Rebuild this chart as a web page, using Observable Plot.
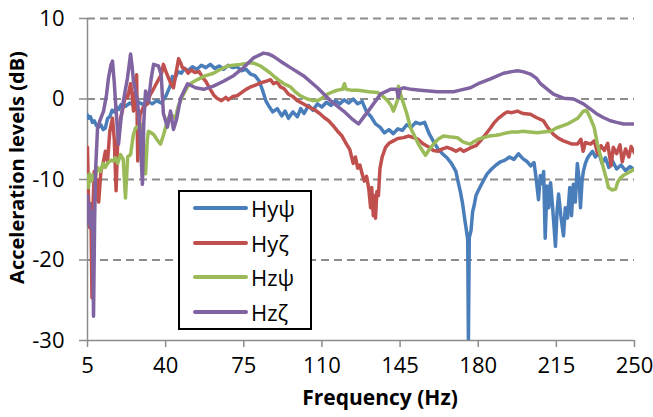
<!DOCTYPE html>
<html><head><meta charset="utf-8">
<script src="https://cdn.jsdelivr.net/npm/d3@7"></script>
<script src="https://cdn.jsdelivr.net/npm/@observablehq/plot@0.6"></script>
<style>
body{margin:0;background:#fff;}
#wrap{position:relative;width:653px;height:417px;font-family:"Open Sans",sans-serif;}
#legend{position:absolute;left:178px;top:190px;width:130px;height:136px;border:2px solid #000;background:#fff;}
.item{position:absolute;left:13px;height:30px;display:flex;align-items:center;font-size:22px;color:#000;}
.sw{width:55px;height:4px;border-radius:2px;margin-right:3px;}
</style></head>
<body><div id="wrap"><div id="chart"></div><div id="legend"></div></div>
<script>
const seriesNames = ["Hyψ", "Hyζ", "Hzψ", "Hzζ"];
const seriesColors = ["#4a7ebb", "#c0504d", "#9bbb59", "#8064a2"];
const xTicks = [5, 40, 75, 110, 145, 180, 215, 250];
const yTicks = [-30, -20, -10, 0, 10];

const hyPsiFreq = [5,5.5,6.3,7.2,8,9,10,11,12,13,14,15,16,17,18,19,20,22,24,26,28,30,32,34,36,38,40,42,43,44,45.5,47,48.5,50,52,54,56,58,60,62,64,66,68,70,72,74,76,78,80,82,83.5,85,86.5,88,90,92,93.5,95,97,99,100.5,102,104,106,108,110,112,114,116,118,120,122,124,126,128,130,132,134,136,138,140,142,144,146,148,150,152,154,156,158,160,162,164,166,168,170,171,172,173,174,174.8,175.3,175.6,176,176.8,177.5,178.2,179,180,182,184,186,188,190,192,194,196,198,200,202,203.5,205,206,207,207.8,208.5,209.3,210,210.8,211.6,212.4,213.2,214,214.6,215.3,216,217,218.2,219,220,221,221.8,222.6,223.5,224.4,225.2,225.8,226.5,227.1,228,229,230,231.2,232.5,234,235.5,237,238.5,240,242,244,246,248,250];
const hyPsiLevel = [-2,-2.4,-2.2,-2.9,-2.7,-3.3,-3.5,-3.2,-3.8,-3.6,-2.4,-2.2,-1.4,-1.6,-1,-1.3,-0.7,-0.9,-0.5,-0.8,-0.4,-0.7,-0.3,-0.6,-0.2,-0.5,0.3,1.6,2.8,2.4,3.4,3.2,3.8,3.5,4,3.7,4.2,3.9,4.3,3.8,4.1,3.7,4.2,3.9,4,3.5,3.7,3.1,2.9,2.2,1,-0.3,-1,-1.6,-1.2,-2.1,-1.5,-2.4,-1.6,-2.2,-1.2,-1.8,-0.8,-1.4,-0.6,-1,-0.4,-0.8,-0.2,-0.6,-0.1,-0.5,0,-0.6,-0.3,-1.6,-2.2,-3.1,-3.5,-4.2,-3.8,-4.3,-3.7,-3.9,-3.2,-3.5,-2.9,-3.1,-2.9,-4.3,-5.3,-6.2,-6.8,-7.3,-8,-9,-10.3,-11.5,-13,-15,-16.5,-17.5,-30,-17.2,-16.3,-14,-13.2,-12,-11.4,-10.3,-9.3,-8.7,-8.2,-7.8,-7.6,-7.2,-7.5,-6.8,-7.4,-7.8,-8.3,-7.9,-10,-12.5,-9.5,-10.5,-9,-17.3,-10.8,-13.5,-10.4,-13,-16,-18.3,-14,-11.8,-14.5,-17,-13.5,-14.8,-11,-14.5,-10.6,-12.8,-8,-10,-13.5,-10.2,-9,-8,-7.3,-6.9,-6.5,-7.2,-6.6,-8,-7.3,-8.5,-7.6,-8.7,-8.2,-8.9,-8.4,-8.8];

const hyZetaFreq = [5,5.4,6,6.5,7,7.4,8,8.6,9.3,10,11,12,13,14,15,16.2,17,17.8,18.5,19.8,21,22,23,24.3,25,25.6,26.5,27,27.5,28.5,30,31.9,33,34.1,36.4,38,39,40,41.3,42.5,43.5,44.5,45.8,46.7,47.5,49,50,51.5,53,55,57,58,60,61.5,63,65,67,68,70,72,74,76,78,80,82.5,85,87,88.3,90,91.4,93,95,97,99,101,103,105,107,109,111,113,115,117,119,121,122.5,124,125,126,127,128,129,130,131,131.8,132.3,133,133.5,134,134.6,135.3,136,137,138.5,140,142,144,146.5,149,151,153,155.5,158,160,162,164,166,168,170,172,173.4,175,177,179,181,183,185.5,187,189,191.3,193,195,197.6,200,203.4,206,209.2,211,213.7,216,218.2,220,222,224.5,226,227,228,230.3,232,233.5,235,236.5,238,239.5,240.5,242,243.5,244.5,246,247.5,248.5,250];
const hyZetaLevel = [-6,-12,-16,-13,-24.7,-14,-9,-12.5,-10,-12.8,-9,-8,-6.5,-7.7,-4,-2.4,-5,-11.4,-5.5,-2.4,-1,0.5,0.2,1.9,0.5,-1.5,1,3,-7.7,-2,-1,-0.6,0.5,1,2.2,3,4.3,3.5,2.6,1.8,1.4,3,5,4.5,3.9,3.7,3.2,3.6,3.3,3.4,2.5,2.2,1.2,0.5,0.1,-0.2,0.2,-0.1,0.3,0.4,0.8,1.2,1.5,1.7,2,2.2,2.4,1.9,2.1,1.5,1.3,0.6,0.3,-0.2,-0.5,-0.8,-1.1,-1.4,-1.8,-2.3,-2.7,-3.3,-4,-4.6,-5.6,-6.3,-8,-7.2,-8.6,-8.2,-9.3,-10.2,-9.6,-11.2,-13.5,-11,-14.5,-12,-14.8,-11.5,-12,-8.6,-7.2,-6,-5.5,-5.2,-4.9,-4.8,-4.6,-4.8,-5,-5.6,-6,-6.4,-6.5,-6.2,-6,-6.2,-6.5,-6.2,-6.5,-6.3,-6,-5.8,-5.2,-4.5,-3.6,-3,-2.4,-1.9,-1.6,-1.7,-1.5,-1.8,-1.9,-2.3,-2.7,-3.5,-4.4,-4.9,-5.2,-5.4,-5.6,-5.6,-5,-6.5,-5.4,-5.6,-5.2,-6.8,-5.8,-6.4,-5.5,-8.3,-6,-6.8,-5.7,-7.8,-6.2,-7.2,-5.9,-6.7];

const hzPsiFreq = [5,5.45,6,6.8,7.5,8.5,9.5,10.8,12,13,14,15.5,16.6,17.5,18.5,19.8,21,22,23,24.3,25.5,26.5,28,28.7,30,31,31.8,32.3,33.5,34.6,36,37.7,39,39.9,41,42.2,43.5,44.4,45.5,46.7,48,49.8,51,53.4,55.6,58,61.4,64,67.7,70.4,73.5,76,78,80,82.5,85,87,89,91.4,93,95.9,98,100.4,103.5,106,108,110,112.5,115,117,119.2,120.1,120.8,123,126,128.6,131,134.9,137,139.4,141,142,143,143.8,144.3,145,146.1,148,149.7,151.5,153.2,155,156.4,158,160,162,164.4,167,170.7,173,175,176.5,178,180,182.4,185,188,190,193,195,197.6,200,203,206.5,209,212.4,215,218,220,222,224.5,226,227.1,228.5,230.3,232,233.4,235,236.1,237.5,238.3,240,241.5,242.5,243.7,245.5,248.2,250];
const hzPsiLevel = [-9.5,-11,-9.3,-10.2,-9.5,-9.8,-8.5,-9,-8,-8.5,-8,-7.6,-7.7,-7.3,-8,-6.9,-7.5,-12.3,-7.2,-6.9,-4.5,-3.6,-3.4,-3.1,-5.5,-9.3,-5,-4,-4.2,-4.4,-5,-5.6,-4.5,-3.6,-2.5,-1.9,-2.2,-2.4,-1,-0.2,0.6,1.5,1.9,2.3,2.6,2.9,3.2,3.6,4.1,4.2,4.3,4.4,4.5,4.4,4.1,3.6,3.2,2.7,2.2,1.9,1.5,0.9,0.4,0,-0.2,-0.2,0.1,0.6,0.9,1.1,1.2,1.9,1.2,1.1,1.1,1,0.9,0.8,0.4,-0.2,-0.8,-1.5,-0.8,-0.2,1.6,0.8,-0.2,-1.8,-3.6,-4.6,-5.6,-6.4,-7,-6.3,-5.6,-5,-4.6,-4.7,-4.8,-5.3,-5.5,-5.6,-5.3,-5,-4.8,-4.6,-4.5,-4.4,-4.2,-4.1,-4.1,-4,-4.1,-4.2,-4.1,-4,-3.6,-3.3,-3.1,-2.8,-2.4,-1.9,-1.5,-1.4,-2.4,-3.6,-5.6,-7.3,-8.6,-10,-11,-11.3,-11.2,-10.3,-9.8,-9.4,-9,-8.7];

const hzZetaFreq = [5,5.4,6,6.5,7.2,7.7,8.2,8.6,9.5,10.8,12.2,13.5,14.4,15.5,16.2,17,17.5,18.9,20,21.1,22.9,24.3,25,25.6,27.4,28.5,29.6,30.2,31,32.3,33.5,34.6,36.8,38,39,40.8,42.2,43.5,44.9,46.7,49.8,53.4,57,61.4,65.9,70.4,74.9,79.3,83.8,86,88.3,91.4,95.9,101.7,108,113.8,119.7,124,126.4,128,131.8,136.2,140.7,143.5,144.2,145,146.5,150,154.1,158,161.8,165,168.9,172,176.5,180,185.5,191.3,195,197.6,200,203.4,206,207.9,211,213.7,218.2,222.7,227.1,230,233.4,236,239.2,242,245.1,248,250];
const hzZetaLevel = [-12,-15.5,-13,-16,-14,-27,-15,-9,-3.6,-2.5,-1.5,0.5,2.6,4.2,4.7,2,-0.2,-5.6,-2.5,-0.2,2.6,5.6,4,2.2,-0.2,-4,-10.6,-3,1,-0.2,2.5,4.3,4.1,3,-1.8,-3.5,-1.5,-3.8,-2.5,0.1,1.9,1.4,1.2,1.6,2.2,2.9,3.9,5.1,5.7,5.6,5.3,4.7,3.9,2.9,1.4,-0.2,-1.5,-2.6,-3.1,-2.5,-1.1,0.6,1.2,1.2,0.2,1.2,1.4,1.2,1.1,1,0.9,0.9,0.9,1.1,1.4,1.9,2.5,3.2,3.4,3.5,3.4,3.1,2.6,1.9,1.2,0.6,0.1,0,-0.6,-1.2,-1.9,-2.3,-2.7,-2.9,-3.1,-3.1,-3.1];

const freqs = [hyPsiFreq, hyZetaFreq, hzPsiFreq, hzZetaFreq];
const levels = [hyPsiLevel, hyZetaLevel, hzPsiLevel, hzZetaLevel];

const rows = seriesNames.flatMap((name, i) =>
  freqs[i].map((f, j) => ({series: name, freq: f, level: levels[i][j]})));

const axisColor = "#8c8c8c";
const chart = Plot.plot({
  width: 653,
  height: 417,
  marginLeft: 87,
  marginRight: 19,
  marginTop: 18,
  marginBottom: 77,
  style: {fontFamily: "'Open Sans', sans-serif", fontSize: "22px", color: "#000", background: "#fff"},
  x: {domain: [5, 250]},
  y: {domain: [-30, 10]},
  color: {domain: seriesNames, range: seriesColors},
  marks: [
    Plot.gridY(yTicks.filter(t => t > -30), {stroke: axisColor, strokeOpacity: 1, strokeWidth: 2, strokeDasharray: "8,5"}),
    Plot.ruleX([5], {stroke: axisColor, strokeWidth: 1.5}),
    Plot.ruleY([-30], {stroke: axisColor, strokeWidth: 1.5}),
    Plot.axisX(xTicks, {tickSize: 7, tickPadding: 10, stroke: axisColor, strokeWidth: 1.5, label: null, fontSize: 22, tickFormat: d => String(d)}),
    Plot.axisY(yTicks, {tickSize: 8, tickPadding: 15, stroke: axisColor, strokeWidth: 1.5, label: null, fontSize: 22, tickFormat: d => String(d)}),
    Plot.line(rows, {x: "freq", y: "level", z: "series", stroke: "series", strokeWidth: 3.5, strokeLinejoin: "round", clip: true}),
    Plot.text(["Frequency (Hz)"], {text: d => d, frameAnchor: "bottom", dx: 19, dy: 64, fontWeight: "bold", fontSize: 21}),
    Plot.text(["Acceleration levels (dB)"], {text: d => d, frameAnchor: "left", textAnchor: "middle", rotate: -90, dx: -70, dy: -12, fontWeight: "bold", fontSize: 20})
  ]
});
document.getElementById("chart").appendChild(chart);

const legend = d3.select("#legend");
seriesNames.forEach((name, i) => {
  const item = legend.append("div").attr("class", "item").style("top", (1 + i * 34.7) + "px");
  item.append("div").attr("class", "sw").style("background", seriesColors[i]);
  item.append("span").text(name);
});
</script>
</body></html>
